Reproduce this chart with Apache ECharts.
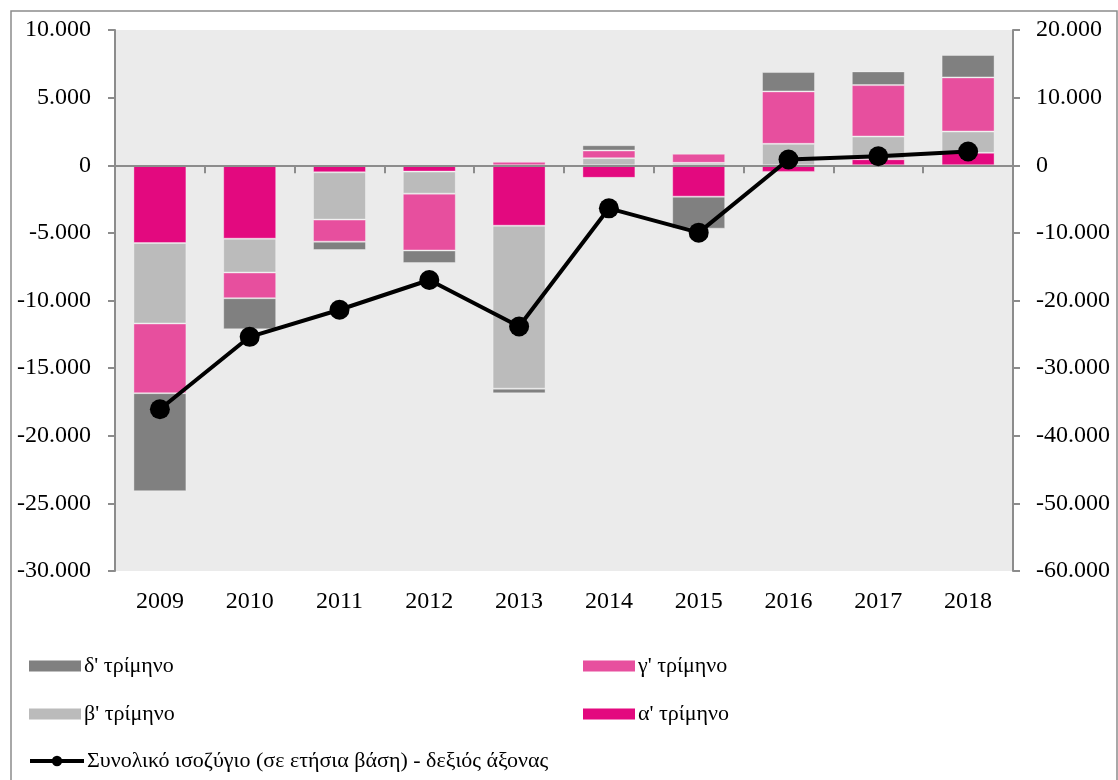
<!DOCTYPE html>
<html>
<head>
<meta charset="utf-8">
<script src="https://cdn.jsdelivr.net/npm/echarts@6/dist/echarts.min.js"></script>
<style>
  html, body { margin: 0; padding: 0; background: #fff; }
  #chart { width: 1118px; height: 780px; }
</style>
</head>
<body>
<div id="chart"></div>
<script>
// Data
const years = ['2009', '2010', '2011', '2012', '2013', '2014', '2015', '2016', '2017', '2018'];
const q1 = [-5750, -5430, -520, -470, -4470, -930, -2320, -490, 445, 920];
const q2 = [-5950, -2500, -3500, -1630, -12050, 520, 180, 1585, 1680, 1575];
const q3 = [-5150, -1900, -1630, -4200, 250, 570, 670, 3875, 3800, 4000];
const q4 = [-7250, -2300, -620, -935, -340, 390, -2370, 1430, 1015, 1655];
const totalBalance = [-36080, -25370, -21370, -16970, -23840, -6370, -9970, 845, 1330, 2030];

const names = {
  q1: "α' τρίμηνο",
  q2: "β' τρίμηνο",
  q3: "γ' τρίμηνο",
  q4: "δ' τρίμηνο",
  total: 'Συνολικό ισοζύγιο (σε ετήσια βάση) - δεξιός άξονας',
};

const FONT = "'Liberation Serif', 'DejaVu Serif', serif";

function fmt(v) {
  const s = String(Math.abs(v)).replace(/\B(?=(\d{3})+(?!\d))/g, '.');
  return (v < 0 ? '-' : '') + s;
}

function barSeries(name, data, color) {
  return {
    name,
    type: 'bar',
    stack: 'q',
    data,
    barWidth: 53,
    itemStyle: { color, borderColor: 'rgba(255,255,255,0.35)', borderWidth: 1 },
    emphasis: { disabled: true },
  };
}

function legendItem(name, left, top, extra) {
  return Object.assign({
    data: [name],
    left, top,
    padding: 0,
    icon: 'rect',
    itemWidth: 52,
    itemHeight: 11,
    selectedMode: false,
    itemStyle: { borderWidth: 0 },
    textStyle: { fontFamily: FONT, fontSize: 22, color: '#000', padding: [0, 0, 0, -2] },
  }, extra || {});
}

const chart = echarts.init(document.getElementById('chart'));

const axisGray = '#8c8c8c';

chart.setOption({
  animation: false,
  backgroundColor: '#fff',
  grid: {
    left: 115, right: 105, top: 30, bottom: 209,
    show: true, backgroundColor: '#ebebeb', borderWidth: 0,
  },
  graphic: [{
    type: 'rect',
    shape: { x: 11, y: 11, width: 1106, height: 820 },
    style: { fill: null, stroke: '#8c8c8c', lineWidth: 1.5 },
    silent: true,
  }],
  legend: [
    legendItem(names.q4, 29, 655),
    legendItem(names.q3, 583, 655),
    legendItem(names.q2, 29, 703),
    legendItem(names.q1, 583, 703),
    legendItem(names.total, 28, 750, {
      icon: null,
      itemWidth: 54,
      itemHeight: 13,
      lineStyle: { width: 4, color: '#000' },
      itemStyle: { color: '#000' },
    }),
  ],
  xAxis: [
    {
      type: 'category',
      data: years,
      position: 'bottom',
      axisLine: { show: false },
      axisTick: { show: false },
      axisLabel: { fontFamily: FONT, fontSize: 24, color: '#000', margin: 19 },
    },
    {
      type: 'category',
      data: years,
      position: 'bottom',
      z: 5,
      axisLine: { onZero: true, onZeroAxisIndex: 0, lineStyle: { color: axisGray, width: 2 } },
      axisTick: { show: true, length: 8, lineStyle: { color: axisGray, width: 2 } },
      axisLabel: { show: false },
    },
  ],
  yAxis: [
    {
      type: 'value',
      min: -30000, max: 10000, interval: 5000,
      axisLine: { show: true, lineStyle: { color: axisGray, width: 2 } },
      axisTick: { show: true, length: 7, lineStyle: { color: axisGray, width: 2 } },
      splitLine: { show: false },
      axisLabel: { fontFamily: FONT, fontSize: 24, color: '#000', margin: 24, formatter: fmt },
    },
    {
      type: 'value',
      min: -60000, max: 20000, interval: 10000,
      axisLine: { show: true, lineStyle: { color: axisGray, width: 2 } },
      axisTick: { show: true, length: 7, lineStyle: { color: axisGray, width: 2 } },
      splitLine: { show: false },
      axisLabel: { fontFamily: FONT, fontSize: 24, color: '#000', margin: 23, formatter: fmt },
    },
  ],
  series: [
    barSeries(names.q1, q1, '#e3097f'),
    barSeries(names.q2, q2, '#bbbbbb'),
    barSeries(names.q3, q3, '#e74f9e'),
    barSeries(names.q4, q4, '#808080'),
    {
      name: names.total,
      type: 'line',
      yAxisIndex: 1,
      data: totalBalance,
      symbol: 'circle',
      symbolSize: 20,
      z: 10,
      itemStyle: { color: '#000' },
      lineStyle: { color: '#000', width: 4 },
      emphasis: { disabled: true },
    },
  ],
});
</script>
</body>
</html>
